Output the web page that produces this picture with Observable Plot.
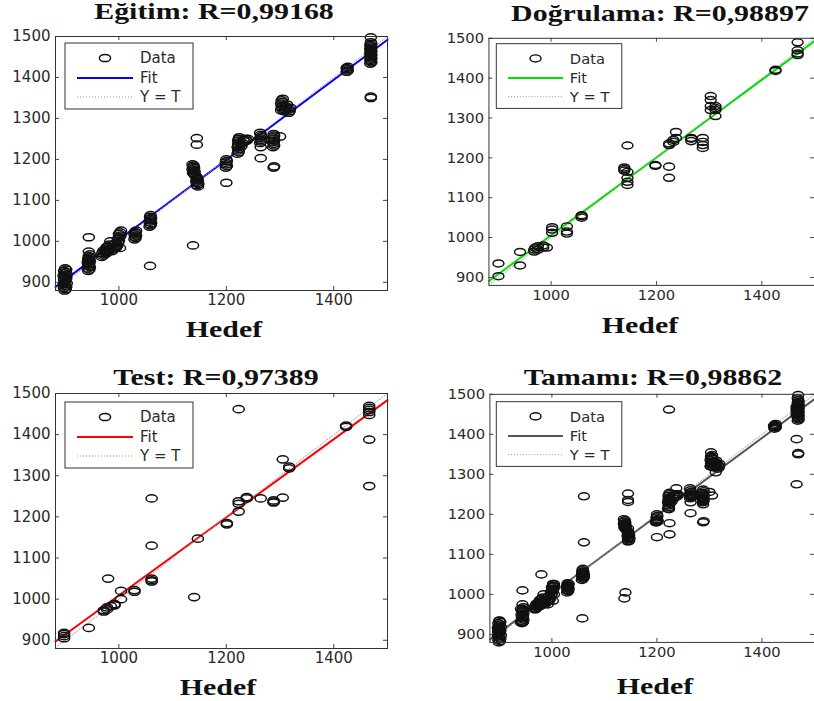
<!DOCTYPE html>
<html>
<head>
<meta charset="utf-8">
<script src="https://cdn.jsdelivr.net/npm/d3@7"></script>
<script src="https://cdn.jsdelivr.net/npm/@observablehq/plot@0.6"></script>
<style>
  html, body { margin: 0; padding: 0; background: #fff; }
  #root { position: relative; width: 814px; height: 701px; overflow: hidden; background: #fff; }
  .ttl, .xl { position: absolute; white-space: nowrap; font-family: "Liberation Serif", "Times New Roman", serif;
    font-weight: bold; font-size: 23px; line-height: 23px; color: #111; transform: translateX(-50%) scaleX(1.3); }
  .pn { position: absolute; }
</style>
</head>
<body>
<div id="root"></div>
<script>
// ---- data (target, output) ----
const trainPoints = [
  [899,880],[901,883],[898,886],[902,889],[900,892],[897,895],[903,898],[899,901],[901,904],[898,907],[902,910],[900,913],[897,916],[903,919],[899,922],[901,925],[898,928],[902,931],[900,934],
  [943,928],[945,931],[942,934],[946,937],[944,940],[943,943],[945,946],[942,949],[946,952],[944,955],[943,958],[945,961],[944,964],[946,968],[944,975],[944,1010],
  [968,962],[970,965],[972,968],[969,971],[974,974],[971,977],[976,970],[978,975],[975,980],[979,983],[977,986],[981,978],[983,981],[980,988],[982,992],[984,1000],
  [987,976],[989,980],[991,984],[993,988],[990,992],[995,985],[997,990],[994,995],[999,998],[1000,1002],[998,1006],[1001,1010],[1003,1014],[1000,1018],[1002,1022],[1004,1026],[1002,984],
  [1029,1005],[1031,1008],[1030,1011],[1032,1014],[1029,1017],[1031,1020],[1030,1023],[1032,1026],
  [1057,1036],[1059,1039],[1058,1042],[1060,1045],[1057,1048],[1059,1051],[1058,1054],[1060,1057],[1058,1060],[1059,1064],[1058,940],
  [1137,1188],[1139,1185],[1138,1182],[1140,1179],[1137,1176],[1139,1173],[1141,1170],[1138,1167],[1140,1164],[1142,1161],[1144,1158],[1146,1155],[1145,1152],[1147,1149],[1144,1146],[1146,1143],[1148,1140],[1145,1137],[1147,1134],[1138,990],[1145,1236],[1145,1252],
  [1199,1180],[1201,1184],[1200,1188],[1199,1192],[1201,1196],[1200,1200],[1200,1143],
  [1221,1214],[1223,1218],[1222,1222],[1224,1226],[1221,1230],[1223,1234],[1222,1238],[1224,1242],[1222,1246],[1223,1250],[1224,1254],[1228,1232],[1230,1240],[1232,1248],[1234,1244],[1236,1250],[1238,1246],[1240,1250],
  [1263,1240],[1265,1244],[1264,1248],[1263,1252],[1265,1256],[1264,1260],[1263,1265],[1264,1230],[1264,1203],
  [1287,1230],[1289,1234],[1288,1238],[1287,1242],[1289,1246],[1288,1250],[1287,1254],[1289,1258],[1288,1262],[1288,1180],[1289,1183],[1300,1256],
  [1302,1320],[1304,1324],[1303,1328],[1305,1332],[1302,1336],[1304,1340],[1303,1344],[1305,1348],[1307,1318],[1309,1322],[1311,1326],[1310,1330],[1313,1334],[1316,1314],[1318,1318],[1317,1322],[1319,1326],
  [1424,1414],[1426,1417],[1425,1420],[1424,1423],[1426,1426],
  [1468,1434],[1470,1437],[1469,1440],[1468,1443],[1470,1446],[1469,1449],[1468,1452],[1470,1455],[1469,1458],[1468,1461],[1470,1464],[1469,1467],[1468,1470],[1470,1473],[1469,1476],[1468,1479],[1470,1482],[1469,1486],[1469,1498],[1469,1350],[1469,1353]
];
const validationPoints = [
  [900,935],[900,903],
  [941,964],[941,930],
  [968,965],[968,970],[970,975],[975,970],[975,978],[985,975],[985,980],[992,975],
  [1002,1012],[1002,1020],[1002,1026],
  [1030,1010],[1030,1015],[1030,1028],
  [1058,1050],[1058,1054],[1058,1056],
  [1139,1168],[1139,1172],[1139,1176],
  [1145,1231],[1145,1150],[1145,1140],[1145,1132],[1145,1165],
  [1198,1182],[1198,1180],
  [1224,1178],[1224,1150],[1224,1232],[1224,1236],
  [1232,1240],[1232,1245],[1237,1265],[1237,1250],
  [1266,1242],[1266,1248],[1266,1250],
  [1288,1225],[1288,1232],[1288,1240],[1288,1250],
  [1303,1355],[1303,1345],[1303,1330],[1303,1320],
  [1312,1325],[1312,1320],[1312,1330],[1312,1305],
  [1426,1418],[1426,1421],
  [1468,1490],[1468,1462],[1468,1458],[1468,1470]
];
const testPoints = [
  [898,905],[898,910],[898,915],[898,918],
  [944,930],
  [980,1050],
  [972,970],[972,973],[978,975],[978,980],[985,983],[992,985],[992,988],
  [1004,1020],[1004,1000],
  [1029,1018],[1029,1022],
  [1061,1245],[1061,1130],[1061,1050],[1061,1043],[1061,1046],
  [1140,1005],
  [1147,1147],
  [1201,1182],[1201,1185],
  [1223,1462],[1223,1232],[1223,1213],[1223,1238],
  [1238,1245],[1238,1248],
  [1264,1245],
  [1288,1240],[1288,1235],[1288,1237],
  [1305,1340],[1305,1247],
  [1317,1318],[1317,1322],
  [1423,1419],[1423,1422],
  [1466,1465],[1466,1470],[1466,1460],[1466,1455],[1466,1448],[1466,1388],[1466,1275]
];
// "Tamamı" (all) = union of the three sets
const allPoints = [...trainPoints, ...validationPoints, ...testPoints];

const panelTitles = ["Eğitim: R=0,99168", "Doğrulama: R=0,98897", "Test: R=0,97389", "Tamamı: R=0,98862"];
const fitSlopes = [0.976, 0.974, 0.950, 0.972];
const fitIntercepts = [28, 32, 59, 30];
const fitColors = ["#0000ff", "#00e000", "#ff0000", "#555555"];
const xTicks = [1000, 1200, 1400];
const yTicks = [900, 1000, 1100, 1200, 1300, 1400, 1500];
const xDomain = [882, 1500];
const yDomain = [880, 1500];
const legendLabels = ["Data", "Fit", "Y = T"];
const xLabel = "Hedef";

// ---- layout ----
const layout = [
  {left: 0,   top: 28,  width: 400, ml: 55, mr: 13, mt: 8,  inner: 254, lx: 10, ly: 7,  tx: 214, tb: 19,  hx: 224, hb: 337},
  {left: 410, top: 28,  width: 412, ml: 80, mr: 0,  mt: 10, inner: 252, lx: 8,  ly: 6,  tx: 660, tb: 21,  hx: 640, hb: 333},
  {left: 0,   top: 385, width: 400, ml: 55, mr: 13, mt: 8,  inner: 255, lx: 10, ly: 9,  tx: 216, tb: 385, hx: 218, hb: 695},
  {left: 410, top: 385, width: 412, ml: 81, mr: 0,  mt: 9,  inner: 253, lx: 7,  ly: 8,  tx: 653, tb: 385, hx: 655, hb: 694}
];
const datasets = [trainPoints, validationPoints, testPoints, allPoints];

// ellipse marker (MATLAB "o" stretched horizontally in the picture)
const ellipse = {
  draw(context, size) {
    const r = Math.sqrt(size / Math.PI);
    const rx = r * 1.55, ry = r, k = 0.5523;
    context.moveTo(rx, 0);
    context.bezierCurveTo(rx, k * ry, k * rx, ry, 0, ry);
    context.bezierCurveTo(-k * rx, ry, -rx, k * ry, -rx, 0);
    context.bezierCurveTo(-rx, -k * ry, -k * rx, -ry, 0, -ry);
    context.bezierCurveTo(k * rx, -ry, rx, -k * ry, rx, 0);
    context.closePath();
  }
};

const root = document.getElementById("root");

layout.forEach((L, i) => {
  const pts = datasets[i].map(([t, o]) => ({t, o}));
  const fit = xDomain.map(t => ({t, o: fitSlopes[i] * t + fitIntercepts[i]}));
  const mb = 25;
  const height = L.mt + L.inner + mb;
  const innerW = L.width - L.ml - L.mr;
  const svg = Plot.plot({
    width: L.width, height,
    marginLeft: L.ml, marginRight: L.mr, marginTop: L.mt, marginBottom: mb,
    x: {domain: xDomain, label: null},
    y: {domain: yDomain, label: null},
    style: {fontFamily: "DejaVu Sans", fontSize: "15px", color: "#2a2a2a", background: "transparent", overflow: "visible"},
    marks: [
      Plot.axisX({ticks: xTicks, tickFormat: d => String(d), tickSize: 0, tickPadding: 4, label: null}),
      Plot.axisY({ticks: yTicks, tickFormat: d => String(d), tickSize: 0, tickPadding: 5, label: null}),
      Plot.tickX(xTicks, {x: d => d, insetTop: L.inner - 4, stroke: "#444"}),
      Plot.tickX(xTicks, {x: d => d, insetBottom: L.inner - 4, stroke: "#444"}),
      Plot.tickY(yTicks, {y: d => d, insetRight: innerW - 4, stroke: "#444"}),
      Plot.tickY(yTicks, {y: d => d, insetLeft: innerW - 4, stroke: "#444"}),
      Plot.line(fit, {x: "t", y: "o", stroke: fitColors[i], strokeWidth: 2}),
      Plot.line(xDomain, {x: d => d, y: d => d, stroke: "#999", strokeWidth: 1, strokeDasharray: "1,2"}),
      Plot.dot(pts, {x: "t", y: "o", symbol: ellipse, r: 3.6, stroke: "#111", fill: "none", strokeWidth: 1.5}),
      Plot.frame({stroke: "#333"})
    ]
  });
  // legend box (MATLAB style)
  const g = d3.select(svg).append("g")
    .attr("transform", `translate(${L.ml + L.lx},${L.mt + L.ly})`)
    .attr("font-family", "DejaVu Sans").attr("font-size", 15).attr("fill", "#2a2a2a")
    .attr("text-anchor", "start");
  g.append("rect").attr("width", 128).attr("height", 66).attr("fill", "#fff").attr("stroke", "#333");
  const path = d3.path(); ellipse.draw(path, 3.6 * 3.6 * Math.PI);
  g.append("path").attr("d", path.toString()).attr("transform", "translate(40,15)")
    .attr("fill", "none").attr("stroke", "#111").attr("stroke-width", 1.5);
  g.append("line").attr("x1", 12).attr("x2", 68).attr("y1", 35).attr("y2", 35)
    .attr("stroke", fitColors[i]).attr("stroke-width", 2);
  g.append("line").attr("x1", 12).attr("x2", 68).attr("y1", 54).attr("y2", 54)
    .attr("stroke", "#999").attr("stroke-dasharray", "1,2");
  [15, 35, 54].forEach((y, j) => {
    g.append("text").attr("x", 75).attr("y", y).attr("dy", "0.35em").attr("text-anchor", "start").text(legendLabels[j]);
  });

  const wrap = document.createElement("div");
  wrap.className = "pn";
  wrap.style.left = L.left + "px";
  wrap.style.top = L.top + "px";
  wrap.appendChild(svg);
  root.appendChild(wrap);

  const title = document.createElement("div");
  title.className = "ttl";
  title.textContent = panelTitles[i];
  title.style.left = L.tx + "px";
  title.style.top = (L.tb - 19) + "px";
  root.appendChild(title);

  const xl = document.createElement("div");
  xl.className = "xl";
  xl.textContent = xLabel;
  xl.style.left = L.hx + "px";
  xl.style.top = (L.hb - 19) + "px";
  root.appendChild(xl);
});
</script>
</body>
</html>
